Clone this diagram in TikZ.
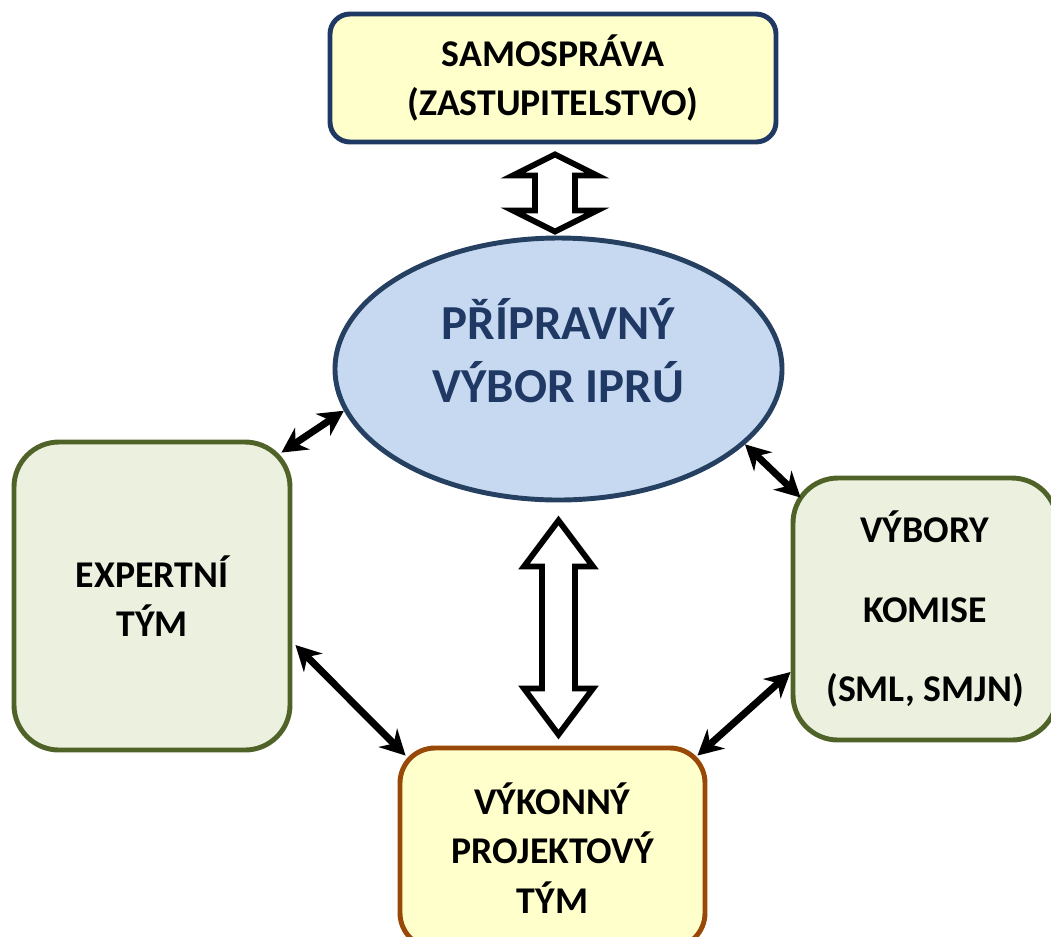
\documentclass[tikz,border=0pt]{standalone}
\usepackage{fontspec}
\setmainfont{Carlito}
\usetikzlibrary{arrows.meta,positioning,shapes.geometric,calc}
\definecolor{samoblue}{HTML}{1F3864}
\definecolor{prepfill}{HTML}{C6D9F1}
\definecolor{prepline}{HTML}{254061}
\definecolor{boxyellow}{HTML}{FFFFCC}
\definecolor{teamgreen}{HTML}{EBF1DE}
\definecolor{teamline}{HTML}{4F6228}
\definecolor{execbrown}{HTML}{984807}
% hollow two-headed block arrow between two tips (top tip, bottom tip, shaft half, head half, head length)
\newcommand{\hollowarrow}[5]{%
  \draw[hollow] (#1) -- ($(#1)+(-#4,-#5)$) -- ($(#1)+(-#3,-#5)$) -- ($(#2)+(-#3,#5)$)
    -- ($(#2)+(-#4,#5)$) -- (#2) -- ($(#2)+(#4,#5)$) -- ($(#2)+(#3,#5)$)
    -- ($(#1)+(#3,-#5)$) -- ($(#1)+(#4,-#5)$) -- cycle;}

\begin{document}
\begin{tikzpicture}[font=\bfseries\fontsize{21.5}{28}\selectfont,
  box/.style={rectangle, line width=2.8pt, align=center, inner sep=0pt},
  link/.style={{Stealth[length=0.5cm,width=0.52cm]}-{Stealth[length=0.5cm,width=0.52cm]}, line width=4pt, black},
  hollow/.style={draw=black, fill=white, line width=3.3pt, line join=miter}]
\useasboundingbox (0,0) rectangle (21.02,-18.72);
% council on top
\node[box, rounded corners=0.4cm, draw=samoblue, fill=boxyellow, minimum width=8.92cm, minimum height=2.56cm]
  (samo) at (11.06,-1.56) {SAMOSPRÁVA\\(ZASTUPITELSTVO)};
% preparatory committee
\node[ellipse, line width=2.8pt, draw=prepline, fill=prepfill, minimum width=8.94cm, minimum height=5.24cm,
  inner sep=0pt] (prep) at (11.17,-7.38) {};
\node[align=center, text=samoblue, font=\bfseries\fontsize{27.8}{36}\selectfont]
  (preptext) at ($(prep.center)+(0,0.36)$) {PŘÍPRAVNÝ\\VÝBOR IPRÚ};
% expert team (left)
\node[box, rounded corners=0.9cm, draw=teamline, fill=teamgreen, minimum width=5.52cm, minimum height=6.16cm]
  (expert) at (3.04,-11.92) {EXPERTNÍ\\TÝM};
% committees (right)
\node[box, rounded corners=0.9cm, draw=teamline, fill=teamgreen, minimum width=5.28cm, minimum height=5.24cm,
  font=\bfseries\fontsize{21.5}{45}\selectfont]
  (komise) at (18.5,-12.18) {VÝBORY\\KOMISE\\(SML, SMJN)};
% executive project team (bottom)
\node[box, rounded corners=0.7cm, draw=execbrown, fill=boxyellow, minimum width=6.1cm, minimum height=4.0cm]
  (exec) at (11.05,-16.96) {VÝKONNÝ\\PROJEKTOVÝ\\TÝM};
% block arrows
\path (samo.south) ++(0.04,-0.2) coordinate (ua);
\coordinate (ub) at ($(ua |- prep.north)+(0,0.08)$);
\hollowarrow{ua}{ub}{0.4}{0.84}{0.42}
\path (prep.south) ++(0,-0.36) coordinate (ma);
\coordinate (mb) at ($(ma |- exec.north)+(0,0.22)$);
\hollowarrow{ma}{mb}{0.33}{0.69}{0.92}
% thin links
\draw[link] ($(expert.north east)+(-0.22,-0.26)$) -- (prep.191);
\draw[link] (prep.338) -- ($(komise.north west)+(0.2,-0.44)$);
\draw[link] ($(expert.east)+(0.06,-0.98)$) -- ($(exec.north west)+(0.16,-0.2)$);
\draw[link] ($(komise.west)+(0,-1.26)$) -- ($(exec.north east)+(-0.2,-0.2)$);
\end{tikzpicture}
\end{document}
